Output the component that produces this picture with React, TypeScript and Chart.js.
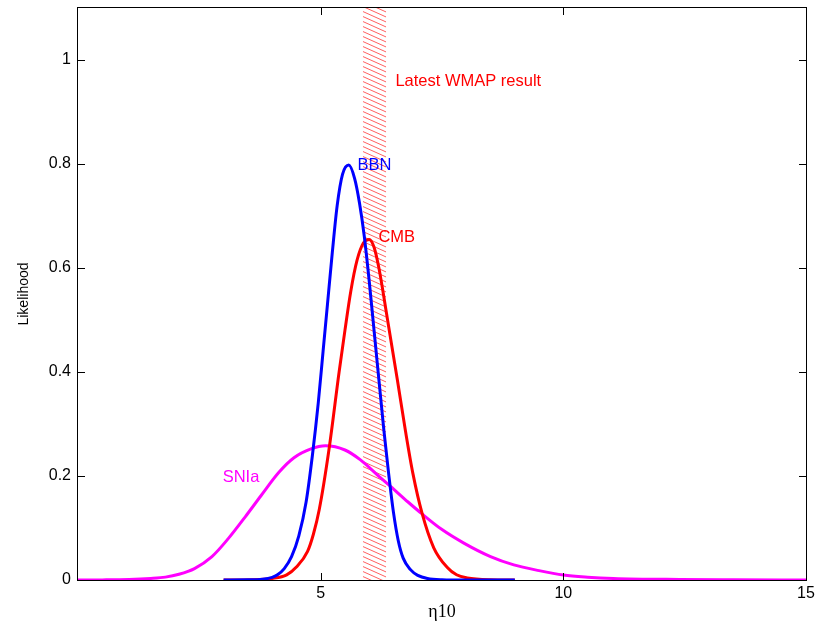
import React, { useEffect, useRef } from "react";
import { Chart, registerables } from "chart.js";
Chart.register(...registerables);

// ---- Data ----
const bbnEta = [3.0, 3.5, 3.8, 4.0, 4.11, 4.25, 4.4, 4.55, 4.7, 4.83, 4.95, 5.05, 5.14, 5.24, 5.34, 5.45, 5.58, 5.7, 5.8, 5.9, 6.0, 6.1, 6.2, 6.3, 6.4, 6.5, 6.6, 6.7, 6.85, 7.0, 7.2, 7.5, 8.0, 9.0];
const bbnLik = [0, 0.0003, 0.0015, 0.005, 0.01, 0.022, 0.045, 0.085, 0.15, 0.24, 0.34, 0.44, 0.53, 0.63, 0.72, 0.78, 0.798, 0.772, 0.725, 0.66, 0.575, 0.48, 0.385, 0.29, 0.205, 0.13, 0.075, 0.042, 0.02, 0.009, 0.003, 0.0006, 0, 0];

const cmbEta = [3.0, 3.6, 4.0, 4.3, 4.5, 4.73, 4.85, 4.97, 5.17, 5.38, 5.5, 5.62, 5.75, 5.88, 6.0, 6.1, 6.2, 6.37, 6.58, 6.75, 6.9, 7.09, 7.33, 7.61, 7.8, 8.02, 8.5, 9.0];
const cmbLik = [0, 0.0005, 0.003, 0.01, 0.025, 0.055, 0.088, 0.135, 0.25, 0.4, 0.48, 0.555, 0.615, 0.648, 0.655, 0.64, 0.6, 0.505, 0.385, 0.285, 0.205, 0.128, 0.062, 0.024, 0.01, 0.004, 0.0005, 0];

const sniaEta = [0, 0.5, 1.05, 1.5, 1.8, 2.08, 2.4, 2.76, 3.1, 3.45, 3.77, 4.14, 4.45, 4.8, 5.1, 5.5, 5.82, 6.23, 6.44, 6.8, 7.09, 7.5, 7.95, 8.5, 8.98, 9.5, 10.0, 10.5, 11.03, 12.4, 13.5, 15.0];
const sniaLik = [0, 0.0002, 0.001, 0.003, 0.0055, 0.011, 0.022, 0.045, 0.08, 0.122, 0.162, 0.207, 0.235, 0.252, 0.258, 0.25, 0.231, 0.197, 0.18, 0.15, 0.127, 0.097, 0.071, 0.045, 0.029, 0.018, 0.0096, 0.0055, 0.003, 0.001, 0.0004, 0.0001];

const seriesNames = ["BBN", "CMB", "SNIa"];
const seriesColors = ["#0000ff", "#ff0000", "#ff00ff"];
const wmapBand = [5.87, 6.35];
const wmapLabel = "Latest WMAP result";
const xTicks = [5, 10, 15];
const yTicks = [0, 0.2, 0.4, 0.6, 0.8, 1];
const yTickLabels = ["0", "0.2", "0.4", "0.6", "0.8", "1"];
const xTitle = "η10";
const yTitle = "Likelihood";

const SANS = "'Liberation Sans', Arial, sans-serif";

const toPoints = (xs: number[], ys: number[]) => xs.map((x, i) => ({ x, y: ys[i] }));

const framePlugin = {
  id: "frame",
  beforeDatasetsDraw(chart: any) {
    const { ctx, chartArea, scales } = chart;
    const x = scales.x;
    const xl = x.getPixelForValue(wmapBand[0]);
    const xr = x.getPixelForValue(wmapBand[1]);
    ctx.save();
    ctx.beginPath();
    ctx.rect(xl, chartArea.top, xr - xl, chartArea.bottom - chartArea.top);
    ctx.clip();
    ctx.strokeStyle = "rgba(255,0,0,0.7)";
    ctx.lineWidth = 0.9;
    const slope = 0.45;
    const w = xr - xl;
    for (let y0 = chartArea.top - w * slope - 6; y0 < chartArea.bottom + 6; y0 += 5) {
      ctx.beginPath();
      ctx.moveTo(xl, y0);
      ctx.lineTo(xr, y0 + w * slope);
      ctx.stroke();
    }
    ctx.restore();
  },
  afterDatasetsDraw(chart: any) {
    const { ctx, chartArea, scales } = chart;
    const { left, right, top, bottom } = chartArea;
    const xs = scales.x;
    const ys = scales.y;
    ctx.save();
    ctx.strokeStyle = "#000";
    ctx.lineWidth = 1;
    ctx.strokeRect(left - 0.5, top - 0.5, right - left + 1, bottom - top + 1);
    const tl = 7;
    ctx.beginPath();
    yTicks.forEach((v) => {
      const py = Math.round(ys.getPixelForValue(v)) + 0.5;
      ctx.moveTo(left, py);
      ctx.lineTo(left + tl, py);
      ctx.moveTo(right, py);
      ctx.lineTo(right - tl, py);
    });
    xTicks.forEach((v) => {
      const px = Math.round(xs.getPixelForValue(v)) + 0.5;
      ctx.moveTo(px, bottom);
      ctx.lineTo(px, bottom - tl);
      ctx.moveTo(px, top);
      ctx.lineTo(px, top + tl);
    });
    ctx.stroke();

    ctx.font = `16.5px ${SANS}`;
    ctx.textBaseline = "middle";
    ctx.textAlign = "left";
    const label = (t: string, vx: number, vy: number, c: string) => {
      ctx.fillStyle = c;
      ctx.fillText(t, xs.getPixelForValue(vx), ys.getPixelForValue(vy));
    };
    label(wmapLabel, 6.54, 0.958, "#ff0000");
    label(seriesNames[0], 5.76, 0.798, seriesColors[0]);
    label(seriesNames[1], 6.19, 0.658, seriesColors[1]);
    label(seriesNames[2], 2.98, 0.198, seriesColors[2]);
    ctx.restore();
  },
};

export default function App() {
  const ref = useRef<HTMLCanvasElement>(null);
  useEffect(() => {
    const series = [
      toPoints(bbnEta, bbnLik),
      toPoints(cmbEta, cmbLik),
      toPoints(sniaEta, sniaLik),
    ];
    const chart = new Chart(ref.current!, {
      type: "line",
      data: {
        datasets: series.map((d, i) => ({
          label: seriesNames[i],
          data: d,
          borderColor: seriesColors[i],
          borderWidth: 3,
          pointRadius: 0,
          fill: false,
          cubicInterpolationMode: "monotone" as const,
        })),
      },
      options: {
        animation: false,
        responsive: true,
        maintainAspectRatio: false,
        layout: { padding: { top: 8, right: 10, left: 0, bottom: 0 } },
        plugins: { legend: { display: false }, tooltip: { enabled: false } },
        scales: {
          x: {
            type: "linear",
            min: 0,
            max: 15,
            grid: { display: false, drawTicks: false },
            border: { display: false },
            afterBuildTicks: (s: any) => {
              s.ticks = xTicks.map((v) => ({ value: v }));
            },
            afterFit: (s: any) => {
              s.height = 47;
              s.paddingLeft = 0;
              s.paddingRight = 0;
            },
            ticks: {
              color: "#000",
              font: { family: SANS, size: 16 },
              padding: 4,
              maxRotation: 0,
              autoSkip: false,
              callback: (v: any) => String(v),
            },
            title: {
              display: true,
              text: xTitle,
              color: "#000",
              font: { family: "'Liberation Serif', 'Times New Roman', serif", size: 18 },
              padding: { top: 0, bottom: 4 },
            },
          },
          y: {
            type: "linear",
            min: 0,
            max: 1.1,
            grid: { display: false, drawTicks: false },
            border: { display: false },
            afterBuildTicks: (s: any) => {
              s.ticks = yTicks.map((v) => ({ value: v }));
            },
            afterFit: (s: any) => {
              s.width = 78;
              s.paddingTop = 0;
              s.paddingBottom = 0;
            },
            ticks: {
              color: "#000",
              font: { family: SANS, size: 16 },
              padding: 7,
              autoSkip: false,
              callback: (v: any) => {
                const i = yTicks.indexOf(v);
                return i >= 0 ? yTickLabels[i] : "";
              },
            },
            title: {
              display: true,
              text: yTitle,
              color: "#000",
              font: { family: SANS, size: 14 },
              padding: { top: 16, bottom: 0 },
            },
          },
        },
      },
      plugins: [framePlugin],
    });
    return () => chart.destroy();
  }, []);
  return (
    <div style={{ position: "fixed", left: 0, top: 0, width: 816, height: 627, background: "#fff" }}>
      <canvas ref={ref} />
    </div>
  );
}
